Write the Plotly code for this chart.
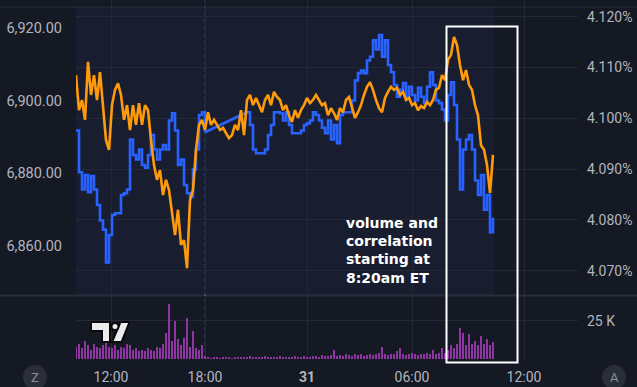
import plotly.graph_objects as go

# ---------------- data ----------------
# E-mini S&P 500 futures (left axis), one sample per bar; None = session break
spx = [6891.75, 6880.25, 6875.5, 6879.5, 6874.75, 6879.25, 6875.5, 6871.25, 6867.0, 6864.5,
       6855.5, 6863.0, 6868.5, 6869.0, 6869.0, 6874.0, 6874.5, 6875.5, 6889.25, 6885.0,
       6883.75, 6886.5, 6882.25, 6881.5, 6885.0, 6890.5, 6886.5, 6883.75, 6886.5, 6887.75,
       6886.5, 6894.5, 6896.5, 6891.75, 6882.25, 6883.75, 6876.75, 6874.5, 6873.5, 6881.0,
       6886.5, 6896.0, 6896.75, 6891.25] + [None] * 13 + [
       6896.75, 6893.25, 6886.5, 6885.5, 6885.5, 6885.5, 6886.5, 6890.5, 6893.25, 6896.75,
       6896.75, 6896.5, 6894.5, 6896.75, 6893.25, 6891.0, 6891.0, 6891.0, 6891.75, 6893.25,
       6893.75, 6894.5, 6896.75, 6896.0, 6894.5, 6892.5, 6891.0, 6894.5, 6889.25, 6893.25,
       6888.25, 6896.0, 6896.75, 6896.75, 6896.75, 6900.0, 6905.5, 6907.5, 6908.25, 6907.5,
       6911.0, 6912.0, 6916.5, 6914.0, 6918.0, 6912.0, 6916.5, 6909.75, 6907.75, 6904.25,
       6901.0, 6903.0, 6904.75, 6901.0, 6903.75, 6901.5, 6900.0, 6903.5, 6901.0, 6899.25,
       6903.75, 6907.75, 6904.25, 6900.0, 6899.25, 6897.5, 6894.5, 6901.5, 6905.0, 6898.75,
       6889.25, 6875.5, 6886.5, 6889.25, 6890.5, 6886.5, 6878.0, 6874.0, 6879.5, 6870.0,
       6874.0, 6863.75, 6867.75]

# 10-year yield in % (right axis)
yld = [4.1085, 4.1016, 4.1036, 4.0997, 4.1111, 4.1046, 4.1085, 4.1036, 4.1091, 4.1016,
       4.0957, 4.0938, 4.1026, 4.1056, 4.1069, 4.1046, 4.0997, 4.1026, 4.0977, 4.1026,
       4.0987, 4.1030, 4.0987, 4.1026, 4.1016, 4.0957, 4.0908, 4.0879, 4.0898, 4.0849,
       4.0879, 4.0859, 4.0810, 4.0770, 4.0820, 4.0751, 4.0760, 4.0705, 4.0839, 4.0859,
       4.0938, 4.0987, 4.0997, 4.0977, 4.1012, 4.0987, 4.0997, 4.0987, 4.0977, 4.0981,
       4.0971, 4.0961, 4.0967, 4.0987, 4.0977, 4.1016, 4.0967, 4.1036, 4.1046, 4.1026,
       4.1040, 4.1026, 4.1012, 4.1036, 4.1046, 4.1026, 4.1052, 4.1042, 4.1036, 4.1016,
       4.1026, 4.1006, 4.0993, 4.1016, 4.1001, 4.1016, 4.1026, 4.1040, 4.1030, 4.1036,
       4.1046, 4.1036, 4.1026, 4.1030, 4.1006, 4.1020, 4.1010, 4.0997, 4.1020, 4.1012,
       4.1036, 4.1042, 4.1022, 4.1001, 4.1012, 4.1026, 4.1046, 4.1062, 4.1071, 4.1056,
       4.1036, 4.1020, 4.1012, 4.1040, 4.1052, 4.1062, 4.1056, 4.1060, 4.1046, 4.1052,
       4.1036, 4.1040, 4.1026, 4.1030, 4.1016, 4.1024, 4.1020, 4.1032, 4.1026, 4.1036,
       4.1056, 4.1060, 4.1085, 4.1075, 4.1115, 4.1125, 4.1160, 4.1144, 4.1105, 4.1075,
       4.1095, 4.1066, 4.1056, 4.1026, 4.1006, 4.0947, 4.0938, 4.0908, 4.0853, 4.0928]

# volume in thousands of contracts
volume_k = [8, 10, 7, 12, 9, 6, 10, 8, 7, 9,
            11, 8, 7, 9, 6, 8, 7, 10, 9, 6,
            7, 5, 6, 5, 7, 6, 5, 8, 7, 10,
            17, 36, 12, 25, 13, 9, 14, 27, 8, 18,
            7, 6, 9, 2,
            1, 0.8, 1, 1.2, 0.8, 1, 1.5, 1, 0.8, 1.2, 1, 1.5,
            1, 1.2, 2, 1, 1.5, 1.2, 1, 1.8, 1.2, 1, 1.5, 1.2, 2, 1, 1.5,
            1.2, 1, 1.8, 1.5, 1.2, 2, 1.5, 1.2, 1.8, 2, 1.5, 2.5, 1.8, 2, 2.5,
            6, 2, 2.5, 2, 3, 2.5, 2, 3.5, 2.5, 3, 2, 2.5, 3, 2.5, 3,
            4, 8, 3, 2.5, 3.5, 3, 5, 7, 3, 2.5, 3.5, 4, 3, 2.5, 3.5,
            3, 4, 3.5, 6, 3, 4, 7, 4,
            6, 9, 7, 10, 20, 17, 9, 16, 10, 12, 9, 15, 10, 13, 9, 11]

bars = list(range(len(yld)))

# time axis: bar positions of the labelled times
time_tick_pos = [11.67, 43.0, 77.0, 112.0, 149.33]
time_tick_text = ["12:00", "18:00", "<b>31</b>", "06:00", "12:00"]

spx_ticks = [6860, 6880, 6900, 6920]
yld_ticks = [4.07, 4.08, 4.09, 4.10, 4.11, 4.12]
yld_tick_text = ["4.070%", "4.080%", "4.090%", "4.100%", "4.110%", "4.120%"]

note_text = "volume and<br>correlation<br>starting at<br>8:20am ET"

# ---------------- styling ----------------
W, H = 637, 387
BG = "#151924"
GRID = "#252935"
LBL = "#b2b5be"
BLUE = "#2962ff"
ORANGE = "#ff9a0a"
VOL = "rgba(171,60,190,0.82)"
FONT = "Roboto"


def px(x):
    return x / W


def py(y):
    return 1 - y / H


xdom = [px(76), px(578)]

# the session break: last bar before the gap and first bar after it
gap_idx = [i for i, v in enumerate(spx) if v is None]
pre_gap, post_gap = gap_idx[0] - 1, gap_idx[-1] + 1

fig = go.Figure()
fig.add_trace(go.Scatter(x=bars, y=yld, mode="lines", yaxis="y2", xaxis="x",
                         line=dict(color=ORANGE, width=2.6), hoverinfo="skip"))
fig.add_trace(go.Scatter(x=bars, y=spx, mode="lines", yaxis="y", xaxis="x",
                         connectgaps=False,
                         line=dict(color=BLUE, width=2.6, shape="hv"), hoverinfo="skip"))
# straight line across the session break
fig.add_trace(go.Scatter(x=[bars[pre_gap], bars[post_gap]], y=[spx[pre_gap], spx[post_gap]],
                         mode="lines", yaxis="y", xaxis="x",
                         line=dict(color=BLUE, width=2.6), hoverinfo="skip"))
fig.add_trace(go.Bar(x=bars, y=volume_k, xaxis="x2", yaxis="y3", width=0.8,
                     marker=dict(color=VOL, line=dict(width=0)), hoverinfo="skip"))

shapes = [
    # bluish data-region background
    dict(type="rect", xref="paper", yref="paper", x0=px(76), x1=px(494), y0=py(295), y1=py(7),
         fillcolor="rgba(40,55,105,0.18)", line=dict(width=0), layer="below"),
    # pane borders
    dict(type="line", xref="paper", yref="paper", x0=0, x1=1, y0=py(7), y1=py(7),
         line=dict(color="#2a2e39", width=1), layer="below"),
    dict(type="line", xref="paper", yref="paper", x0=0, x1=1, y0=py(295.5), y1=py(295.5),
         line=dict(color="#2a2e39", width=2), layer="below"),
    # session-break dashed line
    dict(type="line", xref="paper", yref="paper", x0=px(205.3), x1=px(205.3), y0=py(359), y1=1,
         line=dict(color="#4f8ff0", width=1, dash="4px,3px"), layer="below"),
    # highlight box
    dict(type="rect", xref="paper", yref="paper", x0=px(446.5), x1=px(517.5), y0=py(362.5), y1=py(26.5),
         line=dict(color="white", width=2), fillcolor="rgba(0,0,0,0)", layer="above"),
    # corner buttons
    dict(type="circle", xref="paper", yref="paper", x0=px(23), x1=px(47), y0=py(389), y1=py(365),
         fillcolor="#2a2e39", line=dict(width=0), layer="above"),
    dict(type="circle", xref="paper", yref="paper", x0=px(602), x1=px(626), y0=py(389), y1=py(365),
         fillcolor="#2a2e39", line=dict(width=0), layer="above"),
]


def path(points):
    return "M " + " L ".join(f"{px(a):.5f},{py(b):.5f}" for a, b in points) + " Z"


logo_style = dict(fillcolor="#ececec", line=dict(color="#0a0a0a", width=2), layer="above",
                  xref="paper", yref="paper")
shapes.append(dict(type="path", path=path([(91, 322), (110, 322), (110, 342), (102, 342),
                                            (102, 331), (91, 331)]), **logo_style))
shapes.append(dict(type="path", path=path([(120.5, 322), (129.5, 322), (121.5, 342),
                                            (112, 342)]), **logo_style))
shapes.append(dict(type="circle", x0=px(111.5), x1=px(118.5), y0=py(330), y1=py(323), **logo_style))

annotations = [
    dict(text=note_text, xref="paper", yref="paper", x=px(344), y=py(250),
         xanchor="left", yanchor="middle", align="left", showarrow=False,
         font=dict(family="DejaVu Sans", size=14, color="white", weight="bold")),
    dict(text="Z", xref="paper", yref="paper", x=px(35), y=py(377), showarrow=False,
         xanchor="center", yanchor="middle", font=dict(family=FONT, size=13, color="#8a8e99")),
    dict(text="A", xref="paper", yref="paper", x=px(614), y=py(377), showarrow=False,
         xanchor="center", yanchor="middle", font=dict(family=FONT, size=13, color="#8a8e99")),
]

fig.update_layout(
    width=W, height=H, autosize=False,
    margin=dict(l=0, r=0, t=0, b=0, pad=0),
    paper_bgcolor=BG, plot_bgcolor="rgba(0,0,0,0)",
    showlegend=False, bargap=0,
    font=dict(family=FONT, size=14, color=LBL),
    shapes=shapes, annotations=annotations,
    xaxis=dict(domain=xdom, anchor="y", range=[0, 167.33], tickvals=time_tick_pos,
               showticklabels=False, showgrid=True, gridcolor=GRID, gridwidth=1,
               zeroline=False, showline=False, ticks=""),
    xaxis2=dict(domain=xdom, anchor="y3", matches="x", range=[0, 167.33],
                tickvals=time_tick_pos, ticktext=time_tick_text,
                showgrid=True, gridcolor=GRID, zeroline=False, showline=False, ticks="",
                ticklabelstandoff=8, tickfont=dict(family=FONT, size=14, color=LBL)),
    yaxis=dict(domain=[py(295), 1], anchor="x", side="left",
               range=[6846.52, 6927.61], tickvals=spx_ticks, tickformat=",.2f",
               showgrid=False, zeroline=False, showline=False, ticks="",
               ticklabelstandoff=13, tickfont=dict(family=FONT, size=14.5, color=LBL)),
    yaxis2=dict(overlaying="y", anchor="x", side="right",
                range=[4.06522, 4.12329], tickvals=yld_ticks, ticktext=yld_tick_text,
                showgrid=True, gridcolor=GRID, zeroline=False, showline=False, ticks="",
                ticklabelstandoff=8, tickfont=dict(family=FONT, size=14, color=LBL)),
    yaxis3=dict(domain=[py(359), py(296)], anchor="x2", side="right",
                range=[0, 41.1], tickvals=[25], ticktext=["25 K"],
                showgrid=True, gridcolor=GRID, zeroline=False, showline=False, ticks="",
                ticklabelstandoff=8, tickfont=dict(family=FONT, size=14, color=LBL)),
)

fig.write_html("out.html", config={"displayModeBar": False},
               post_script="document.body.style.margin='0';document.body.style.overflow='hidden';")
